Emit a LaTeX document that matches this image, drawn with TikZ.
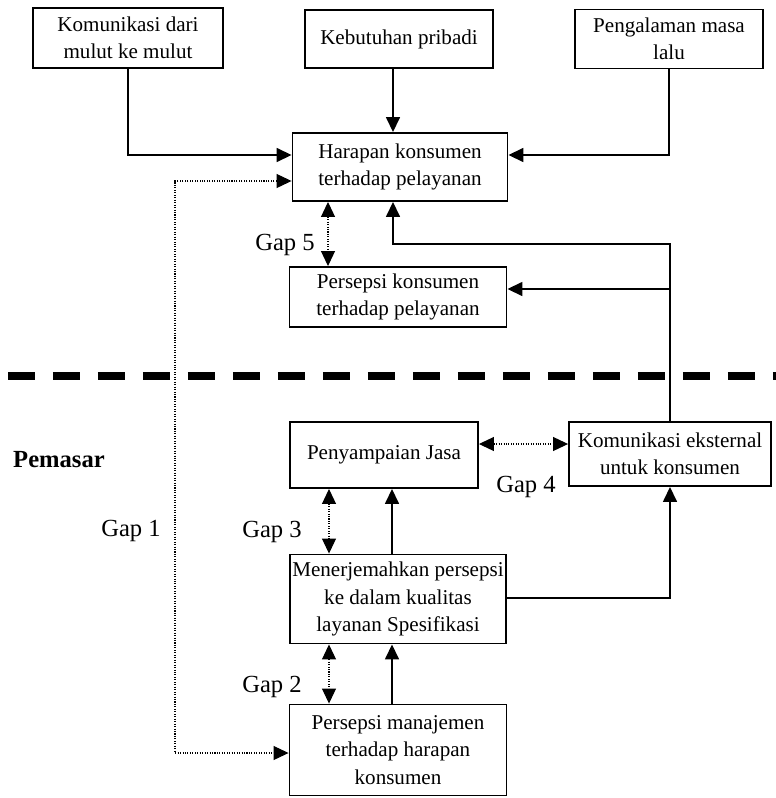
\documentclass[tikz,border=0pt]{standalone}
\usepackage{fontspec}
\setmainfont{Liberation Serif}
\usetikzlibrary{arrows.meta, calc}
\tikzset{
 blok/.style={draw, line width=1.1pt, align=center, inner sep=1pt, font=\fontsize{12}{15.5}\selectfont},
 panah/.style={line width=0.9pt, -{Triangle[length=3mm, width=2.8mm]}},
 celah/.style={line width=0.6pt, dash pattern=on 0.6pt off 0.8pt, {Triangle[length=3mm, width=2.8mm]}-{Triangle[length=3mm, width=2.8mm]}},
 gaplbl/.style={font=\fontsize{14}{16}\selectfont},
}

\begin{document}
\begin{tikzpicture}[x=0.02cm, y=-0.02cm]
 \useasboundingbox (0,0) rectangle (776,798);
 % konsumen
 \node[blok, minimum width=3.8cm, minimum height=1.2cm] (mulut) at (128,38) {Komunikasi dari\\mulut ke mulut};
 \node[blok, minimum width=3.76cm, minimum height=1.16cm] (pribadi) at (399,39) {Kebutuhan pribadi};
 \node[blok, minimum width=3.76cm, minimum height=1.18cm] (lalu) at (669,39) {Pengalaman masa\\lalu};
 \node[blok, minimum width=4.3cm, minimum height=1.36cm] (harapan) at (400,167) {Harapan konsumen\\terhadap pelayanan};
 \node[blok, minimum width=4.34cm, minimum height=1.2cm] (persepsi) at (398,297) {Persepsi konsumen\\terhadap pelayanan};
 % pemasar
 \node[blok, minimum width=3.76cm, minimum height=1.32cm] (jasa) at (384,455) {Penyampaian Jasa};
 \node[blok, minimum width=4.04cm, minimum height=1.28cm] (eksternal) at (670,454) {Komunikasi eksternal\\untuk konsumen};
 \node[blok, minimum width=4.32cm, minimum height=1.78cm] (spek) at (398,599) {Menerjemahkan persepsi\\ke dalam kualitas\\layanan Spesifikasi};
 \node[blok, minimum width=4.34cm, minimum height=1.82cm] (manaj) at (398,750) {Persepsi manajemen\\terhadap harapan\\konsumen};

 \draw[line width=4pt, dash pattern=on 0.54cm off 0.36cm] (8,376) -- (776,376);
 \node[font=\fontsize{14}{16}\selectfont\bfseries] (pemasar) at (59,460) {Pemasar};

 \draw[panah] (mulut.south) |- ($(harapan.west)+(0,-12)$);
 \draw[panah] (pribadi.south -| 393,0) -- (harapan.north -| 393,0);
 \draw[panah] (lalu.south) |- ($(harapan.east)+(0,-12)$);
 \draw[celah] ($(harapan.west)+(0,14)$) -| (175,753) -- (manaj.west |- 0,753);
 \draw[celah] (harapan.south -| 328,0) -- (persepsi.north -| 328,0);
 \coordinate (belok) at (eksternal.north |- 0,244);
 \draw[panah] (eksternal.north) -- (belok) -| (harapan.south -| 393,0);
 \draw[panah] (eksternal.north |- 0,289) -- (persepsi.east |- 0,289);
 \draw[celah] (jasa.east |- 0,444) -- (eksternal.west |- 0,444);
 \draw[celah] (jasa.south -| 329,0) -- (spek.north -| 329,0);
 \draw[panah] (spek.north -| 392,0) -- (jasa.south -| 392,0);
 \draw[panah] (spek.east |- 0,598) -| (eksternal.south);
 \draw[celah] (spek.south -| 329,0) -- (manaj.north -| 329,0);
 \draw[panah] (manaj.north -| 392,0) -- (spek.south -| 392,0);

 \node[gaplbl] (gap1) at (131,531) {Gap 1};
 \node[gaplbl] (gap2) at (272,687) {Gap 2};
 \node[gaplbl] (gap3) at (272,532) {Gap 3};
 \node[gaplbl] (gap4) at (526,487) {Gap 4};
 \node[gaplbl] (gap5) at (285,245) {Gap 5};
\end{tikzpicture}
\end{document}
